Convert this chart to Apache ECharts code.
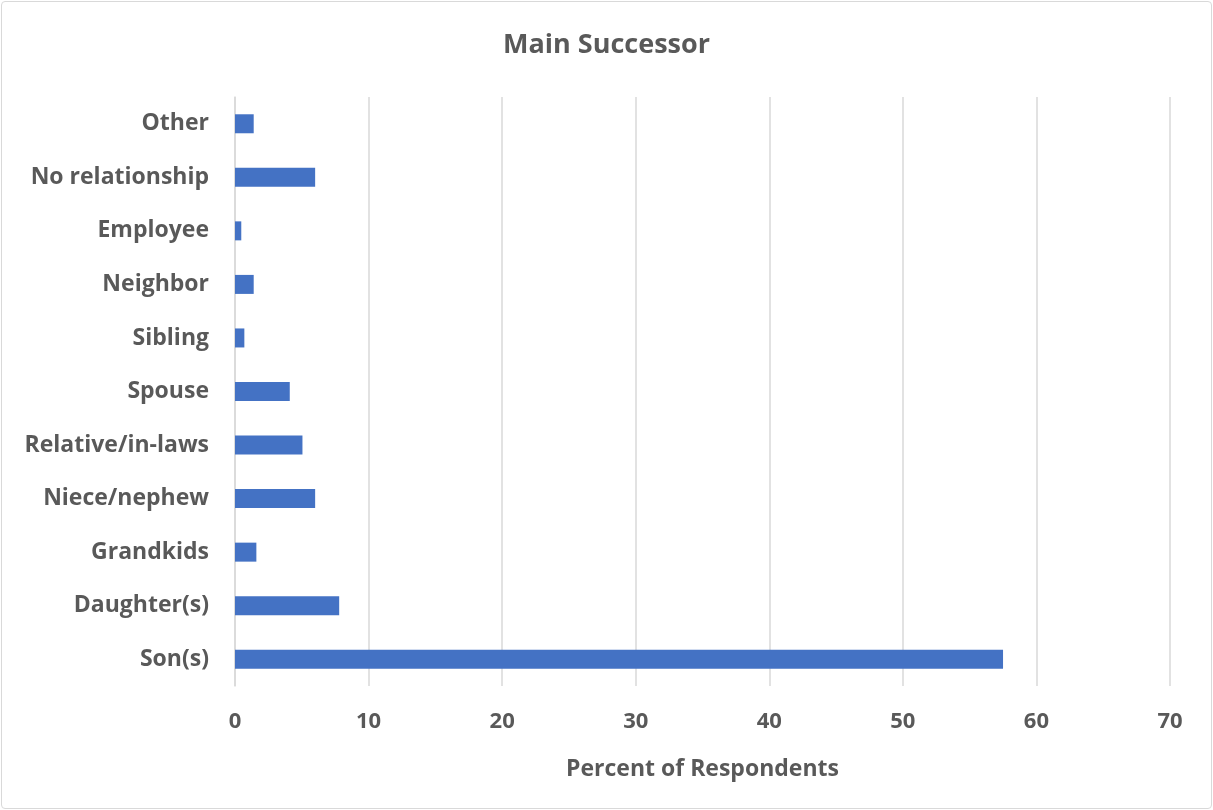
<!DOCTYPE html>
<html><head><meta charset="utf-8">
<script src="https://cdn.jsdelivr.net/npm/echarts@6/dist/echarts.min.js"></script>
<style>
html,body{margin:0;padding:0;background:#fff;}
#wrap{position:absolute;left:1px;top:1px;width:1209px;height:806px;border:1px solid #d9d9d9;border-radius:4px;}
#c{width:1213px;height:810px;position:absolute;left:0;top:0;}
</style></head>
<body><div id="wrap"></div><div id="c"></div>
<script>
const categories = ["Son(s)","Daughter(s)","Grandkids","Niece/nephew","Relative/in-laws","Spouse","Sibling","Neighbor","Employee","No relationship","Other"];
const values = [57.5, 7.8, 1.6, 6.0, 5.05, 4.1, 0.7, 1.4, 0.47, 6.0, 1.4];
const xTicks = {min:0, max:70, interval:10};
const FONT = "'Open Sans', 'Liberation Sans', sans-serif";
const chart = echarts.init(document.getElementById('c'));
chart.setOption({
  animation:false,
  title:{text:'Main Successor', left:'center', top:27, textStyle:{fontFamily:FONT, fontSize:27, fontWeight:'bold', color:'#595959'}},
  grid:{left:235, right:43, top:97, bottom:124},
  xAxis:{type:'value', min:xTicks.min, max:xTicks.max, interval:xTicks.interval,
    name:'Percent of Respondents', nameLocation:'middle', nameGap:72,
    nameTextStyle:{fontFamily:FONT, fontSize:23, fontWeight:'bold', color:'#595959'},
    axisLine:{show:false}, axisTick:{show:false},
    axisLabel:{fontFamily:FONT, fontSize:22, fontWeight:'bold', color:'#595959', margin:25},
    splitLine:{lineStyle:{color:'#d9d9d9', width:1.5}}},
  yAxis:{type:'category', data:categories,
    axisLine:{show:true, lineStyle:{color:'#d9d9d9', width:1.5}}, axisTick:{show:false},
    axisLabel:{fontFamily:FONT, fontSize:23, fontWeight:'bold', color:'#595959', margin:26}},
  series:[{type:'bar', data:values, barWidth:19, itemStyle:{color:'#4472c4'}}]
});
</script></body></html>
